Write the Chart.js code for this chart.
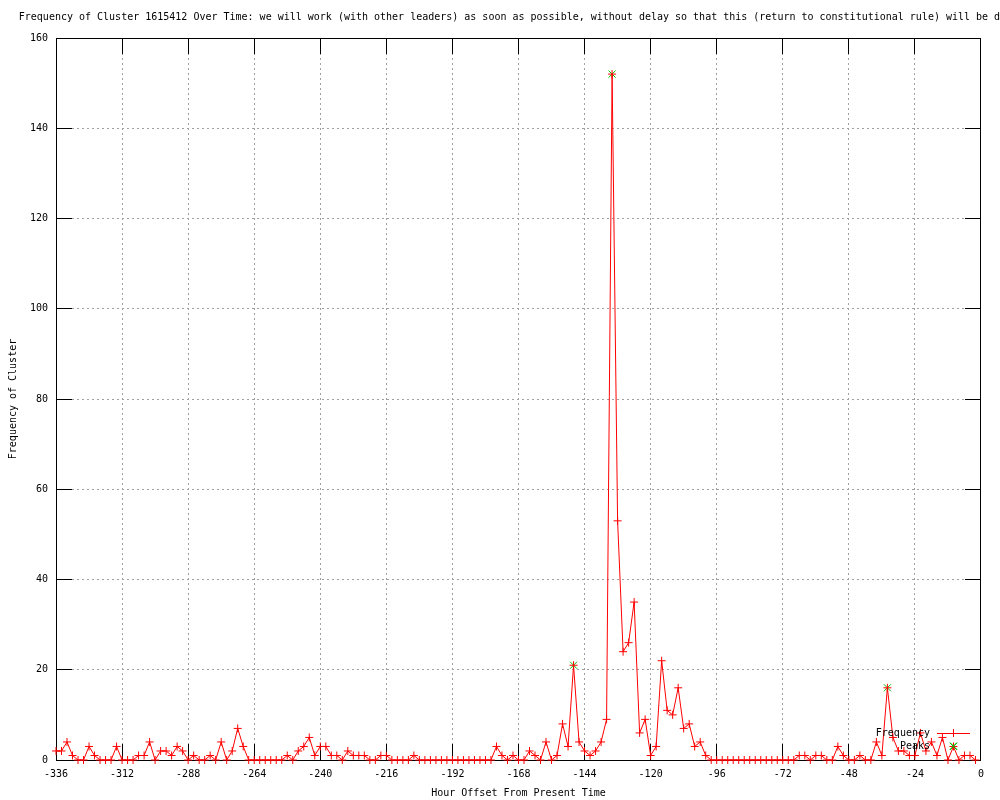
<!DOCTYPE html>
<html>
<head>
<meta charset="utf-8">
<title>Frequency of Cluster 1615412 Over Time</title>
<script src="https://cdn.jsdelivr.net/npm/chart.js@4.4.1/dist/chart.umd.min.js"></script>
<style>
  html, body { margin: 0; padding: 0; background: #fff; }
  canvas { display: block; }
</style>
</head>
<body>
<canvas id="clusterChart" width="1000" height="800"></canvas>
<script>
const chartTitle = 'Frequency of Cluster 1615412 Over Time: we will work (with other leaders) as soon as possible, without delay so that this (return to constitutional rule) will be done';

// one sample every 2 hours
const hourOffsets = [
    -336, -334, -332, -330, -328, -326, -324, -322, -320, -318, -316, -314,
    -312, -310, -308, -306, -304, -302, -300, -298, -296, -294, -292, -290,
    -288, -286, -284, -282, -280, -278, -276, -274, -272, -270, -268, -266,
    -264, -262, -260, -258, -256, -254, -252, -250, -248, -246, -244, -242,
    -240, -238, -236, -234, -232, -230, -228, -226, -224, -222, -220, -218,
    -216, -214, -212, -210, -208, -206, -204, -202, -200, -198, -196, -194,
    -192, -190, -188, -186, -184, -182, -180, -178, -176, -174, -172, -170,
    -168, -166, -164, -162, -160, -158, -156, -154, -152, -150, -148, -146,
    -144, -142, -140, -138, -136, -134, -132, -130, -128, -126, -124, -122,
    -120, -118, -116, -114, -112, -110, -108, -106, -104, -102, -100, -98,
    -96, -94, -92, -90, -88, -86, -84, -82, -80, -78, -76, -74,
    -72, -70, -68, -66, -64, -62, -60, -58, -56, -54, -52, -50,
    -48, -46, -44, -42, -40, -38, -36, -34, -32, -30, -28, -26,
    -24, -22, -20, -18, -16, -14, -12, -10, -8, -6, -4, -2
];

const frequency = [
    2, 2, 4, 1, 0, 0, 3, 1, 0, 0, 0, 3,
    0, 0, 0, 1, 1, 4, 0, 2, 2, 1, 3, 2,
    0, 1, 0, 0, 1, 0, 4, 0, 2, 7, 3, 0,
    0, 0, 0, 0, 0, 0, 1, 0, 2, 3, 5, 1,
    3, 3, 1, 1, 0, 2, 1, 1, 1, 0, 0, 1,
    1, 0, 0, 0, 0, 1, 0, 0, 0, 0, 0, 0,
    0, 0, 0, 0, 0, 0, 0, 0, 3, 1, 0, 1,
    0, 0, 2, 1, 0, 4, 0, 1, 8, 3, 21, 4,
    2, 1, 2, 4, 9, 152, 53, 24, 26, 35, 6, 9,
    1, 3, 22, 11, 10, 16, 7, 8, 3, 4, 1, 0,
    0, 0, 0, 0, 0, 0, 0, 0, 0, 0, 0, 0,
    0, 0, 0, 1, 1, 0, 1, 1, 0, 0, 3, 1,
    0, 0, 1, 0, 0, 4, 1, 16, 5, 2, 2, 1,
    1, 6, 2, 4, 1, 5, 0, 3, 0, 1, 1, 0
];

const peakHours = [-148, -134, -34, -10];
const peakValues = [21, 152, 16, 3];

const xMin = -336, xMax = 0, xStep = 24;
const yMin = 0, yMax = 160, yStep = 20;

const RED = '#ff0000';
const GREEN = '#00c000';
const GRID = '#a0a0a0';
const FONT = "'DejaVu Sans Mono', 'Liberation Mono', monospace";

Chart.defaults.font.family = FONT;
Chart.defaults.font.size = 10;
Chart.defaults.color = '#000';

// gnuplot does not draw grid lines on the frame itself
const gridColor = (lo, hi) => function(context) {
    const v = context.tick ? context.tick.value : null;
    return (v === lo || v === hi) ? 'rgba(0,0,0,0)' : GRID;
};

const gnuplotDecor = {
    id: 'gnuplotDecor',
    afterDraw(chart) {
        const ctx = chart.ctx;
        const area = chart.chartArea;
        ctx.save();
        ctx.font = '10px ' + FONT;
        ctx.fillStyle = '#000';
        ctx.textBaseline = 'middle';

        ctx.textAlign = 'center';
        ctx.fillText(chartTitle, (area.left + area.right) / 2, 17);

        // key in the lower right corner
        const textRight = area.right - 51;
        const sampleX1 = area.right - 44;
        const sampleX2 = area.right - 11;
        const sampleMid = (sampleX1 + sampleX2) / 2;
        const row1 = area.bottom - 27;
        const row2 = area.bottom - 14;

        ctx.textAlign = 'right';
        ctx.fillText('Frequency', textRight, row1);
        ctx.fillText('Peaks', textRight, row2);

        ctx.lineWidth = 1;
        ctx.strokeStyle = GREEN;
        ctx.beginPath();
        ctx.moveTo(sampleMid - 3.5, row2 - 3.5);
        ctx.lineTo(sampleMid + 3.5, row2 + 3.5);
        ctx.moveTo(sampleMid - 3.5, row2 + 3.5);
        ctx.lineTo(sampleMid + 3.5, row2 - 3.5);
        ctx.stroke();

        ctx.strokeStyle = RED;
        ctx.beginPath();
        ctx.moveTo(sampleX1, row1 + 0.5);
        ctx.lineTo(sampleX2, row1 + 0.5);
        ctx.moveTo(sampleMid, row1 - 4);
        ctx.lineTo(sampleMid, row1 + 4);
        ctx.stroke();
        ctx.restore();
    }
};

const ctx = document.getElementById('clusterChart').getContext('2d');

new Chart(ctx, {
    type: 'line',
    data: {
        datasets: [
            {
                label: 'Frequency',
                data: hourOffsets.map((h, i) => ({ x: h, y: frequency[i] })),
                borderColor: RED,
                borderWidth: 1,
                tension: 0,
                fill: false,
                pointStyle: 'cross',
                pointRadius: 4,
                pointBorderColor: RED,
                pointBorderWidth: 1,
                pointBackgroundColor: 'rgba(0,0,0,0)',
                clip: false,
                order: 0
            },
            {
                label: 'Peaks',
                data: peakHours.map((h, i) => ({ x: h, y: peakValues[i] })),
                showLine: false,
                pointStyle: 'crossRot',
                pointRadius: 5,
                pointBorderColor: GREEN,
                pointBorderWidth: 1,
                pointBackgroundColor: 'rgba(0,0,0,0)',
                clip: false,
                order: 1
            }
        ]
    },
    options: {
        responsive: false,
        devicePixelRatio: 1,
        animation: false,
        layout: {
            padding: { top: 38, right: 19, bottom: 0, left: 0 }
        },
        plugins: {
            legend: { display: false },
            tooltip: { enabled: false },
            title: { display: false }
        },
        scales: {
            x: {
                type: 'linear',
                position: 'bottom',
                min: xMin,
                max: xMax,
                // small padding keeps the right overhang inside the layout padding,
                // the tall line height pushes the labels down below the inward ticks
                ticks: {
                    stepSize: xStep,
                    padding: 16,
                    color: '#000',
                    maxRotation: 0,
                    autoSkip: false,
                    font: { size: 10, lineHeight: 2.8 }
                },
                grid: { color: gridColor(xMin, xMax), tickColor: '#000', tickLength: -16, lineWidth: 1 },
                border: { color: '#000', width: 1, dash: [2, 3] },
                title: {
                    display: true,
                    text: 'Hour Offset From Present Time',
                    color: '#000',
                    padding: { top: 0, bottom: 1 }
                },
                afterFit(scale) { scale.height = 40; }
            },
            y: {
                type: 'linear',
                position: 'left',
                min: yMin,
                max: yMax,
                ticks: { stepSize: yStep, padding: 24, color: '#000' },
                grid: { color: gridColor(yMin, yMax), tickColor: '#000', tickLength: -16, lineWidth: 1 },
                border: { color: '#000', width: 1, dash: [2, 3] },
                title: {
                    display: true,
                    text: 'Frequency of Cluster',
                    color: '#000',
                    padding: { top: 7, bottom: 0 }
                },
                afterFit(scale) { scale.width = 56; }
            },
            // mirrored frame ticks on top and right
            xTop: {
                axis: 'x',
                type: 'linear',
                position: 'top',
                min: xMin,
                max: xMax,
                ticks: { display: false, stepSize: xStep },
                grid: { drawOnChartArea: false, tickColor: '#000', tickLength: -16, z: 0 },
                border: { color: '#000', width: 1 },
                afterFit(scale) { scale.height = 0; }
            },
            yRight: {
                axis: 'y',
                type: 'linear',
                position: 'right',
                min: yMin,
                max: yMax,
                ticks: { display: false, stepSize: yStep },
                grid: { drawOnChartArea: false, tickColor: '#000', tickLength: -16, z: 0 },
                border: { color: '#000', width: 1 },
                afterFit(scale) { scale.width = 0; }
            }
        }
    },
    plugins: [gnuplotDecor]
});
</script>
</body>
</html>
